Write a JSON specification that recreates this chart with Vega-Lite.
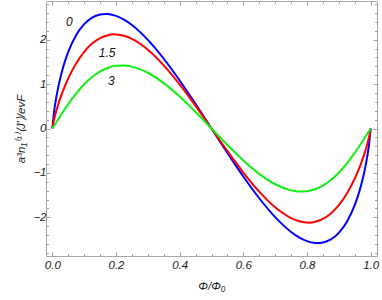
{
  "$schema": "https://vega.github.io/schema/vega-lite/v6.json",
  "width": 331,
  "height": 255,
  "autosize": "none",
  "padding": {"left": 46, "top": 1, "right": 5, "bottom": 44},
  "config": {
    "font": "Liberation Sans",
    "view": {"stroke": "#a8a8a8", "strokeWidth": 1},
    "axis": {
      "domain": false,
      "grid": false,
      "tickColor": "#a0a0a0",
      "tickWidth": 1,
      "labelFont": "Liberation Sans",
      "labelFontStyle": "italic",
      "labelFontSize": 11.5,
      "labelColor": "#222222",
      "labelOverlap": false,
      "labelFlush": false,
      "titleFont": "Liberation Sans",
      "titleFontStyle": "italic",
      "titleFontWeight": "normal",
      "titleFontSize": 11.5,
      "titleColor": "#222222"
    }
  },
  "datasets": {
    "curves": [
      {"x": 0, "y": 0, "c": "0"}, {"x": 0.005, "y": 0.356, "c": "0"}, {"x": 0.01, "y": 0.602, "c": "0"}, {"x": 0.02, "y": 0.982, "c": "0"}, {"x": 0.03, "y": 1.279, "c": "0"}, {"x": 0.04, "y": 1.522, "c": "0"}, {"x": 0.05, "y": 1.724, "c": "0"}, {"x": 0.075, "y": 2.103, "c": "0"}, {"x": 0.1, "y": 2.348, "c": "0"}, {"x": 0.125, "y": 2.496, "c": "0"}, {"x": 0.15, "y": 2.567, "c": "0"}, {"x": 0.1667, "y": 2.58, "c": "0"}, {"x": 0.175, "y": 2.577, "c": "0"}, {"x": 0.2, "y": 2.535, "c": "0"}, {"x": 0.225, "y": 2.45, "c": "0"}, {"x": 0.25, "y": 2.328, "c": "0"}, {"x": 0.275, "y": 2.175, "c": "0"}, {"x": 0.3, "y": 1.995, "c": "0"}, {"x": 0.35, "y": 1.57, "c": "0"}, {"x": 0.4, "y": 1.081, "c": "0"}, {"x": 0.45, "y": 0.55, "c": "0"}, {"x": 0.5, "y": 0, "c": "0"},
      {"x": 0.55, "y": -0.55, "c": "0"}, {"x": 0.6, "y": -1.081, "c": "0"}, {"x": 0.65, "y": -1.57, "c": "0"}, {"x": 0.7, "y": -1.995, "c": "0"}, {"x": 0.725, "y": -2.175, "c": "0"}, {"x": 0.75, "y": -2.328, "c": "0"}, {"x": 0.775, "y": -2.45, "c": "0"}, {"x": 0.8, "y": -2.535, "c": "0"}, {"x": 0.825, "y": -2.577, "c": "0"}, {"x": 0.8333, "y": -2.58, "c": "0"}, {"x": 0.85, "y": -2.567, "c": "0"}, {"x": 0.875, "y": -2.496, "c": "0"}, {"x": 0.9, "y": -2.348, "c": "0"}, {"x": 0.925, "y": -2.103, "c": "0"}, {"x": 0.95, "y": -1.724, "c": "0"}, {"x": 0.96, "y": -1.522, "c": "0"}, {"x": 0.97, "y": -1.279, "c": "0"}, {"x": 0.98, "y": -0.982, "c": "0"}, {"x": 0.99, "y": -0.602, "c": "0"}, {"x": 0.995, "y": -0.356, "c": "0"}, {"x": 1, "y": 0, "c": "0"},

      {"x": 0, "y": 0, "c": "1.5"}, {"x": 0.005, "y": 0.191, "c": "1.5"}, {"x": 0.01, "y": 0.335, "c": "1.5"}, {"x": 0.02, "y": 0.578, "c": "1.5"}, {"x": 0.03, "y": 0.784, "c": "1.5"}, {"x": 0.04, "y": 0.966, "c": "1.5"}, {"x": 0.05, "y": 1.129, "c": "1.5"}, {"x": 0.075, "y": 1.468, "c": "1.5"}, {"x": 0.1, "y": 1.725, "c": "1.5"}, {"x": 0.125, "y": 1.911, "c": "1.5"}, {"x": 0.15, "y": 2.035, "c": "1.5"}, {"x": 0.175, "y": 2.101, "c": "1.5"}, {"x": 0.19, "y": 2.12, "c": "1.5"}, {"x": 0.2, "y": 2.117, "c": "1.5"}, {"x": 0.225, "y": 2.087, "c": "1.5"}, {"x": 0.25, "y": 2.017, "c": "1.5"}, {"x": 0.3, "y": 1.775, "c": "1.5"}, {"x": 0.35, "y": 1.422, "c": "1.5"}, {"x": 0.4, "y": 0.991, "c": "1.5"}, {"x": 0.45, "y": 0.508, "c": "1.5"}, {"x": 0.5, "y": 0, "c": "1.5"},
      {"x": 0.55, "y": -0.508, "c": "1.5"}, {"x": 0.6, "y": -0.991, "c": "1.5"}, {"x": 0.65, "y": -1.422, "c": "1.5"}, {"x": 0.7, "y": -1.775, "c": "1.5"}, {"x": 0.75, "y": -2.017, "c": "1.5"}, {"x": 0.775, "y": -2.087, "c": "1.5"}, {"x": 0.8, "y": -2.117, "c": "1.5"}, {"x": 0.81, "y": -2.12, "c": "1.5"}, {"x": 0.825, "y": -2.101, "c": "1.5"}, {"x": 0.85, "y": -2.035, "c": "1.5"}, {"x": 0.875, "y": -1.911, "c": "1.5"}, {"x": 0.9, "y": -1.725, "c": "1.5"}, {"x": 0.925, "y": -1.468, "c": "1.5"}, {"x": 0.95, "y": -1.129, "c": "1.5"}, {"x": 0.96, "y": -0.966, "c": "1.5"}, {"x": 0.97, "y": -0.784, "c": "1.5"}, {"x": 0.98, "y": -0.578, "c": "1.5"}, {"x": 0.99, "y": -0.335, "c": "1.5"}, {"x": 0.995, "y": -0.191, "c": "1.5"}, {"x": 1, "y": 0, "c": "1.5"},

      {"x": 0, "y": 0, "c": "3"}, {"x": 0.005, "y": 0.057, "c": "3"}, {"x": 0.01, "y": 0.113, "c": "3"}, {"x": 0.02, "y": 0.226, "c": "3"}, {"x": 0.03, "y": 0.336, "c": "3"}, {"x": 0.04, "y": 0.444, "c": "3"}, {"x": 0.05, "y": 0.548, "c": "3"}, {"x": 0.075, "y": 0.789, "c": "3"}, {"x": 0.1, "y": 0.995, "c": "3"}, {"x": 0.125, "y": 1.16, "c": "3"}, {"x": 0.15, "y": 1.284, "c": "3"}, {"x": 0.175, "y": 1.367, "c": "3"}, {"x": 0.2, "y": 1.411, "c": "3"}, {"x": 0.225, "y": 1.419, "c": "3"}, {"x": 0.25, "y": 1.393, "c": "3"}, {"x": 0.3, "y": 1.255, "c": "3"}, {"x": 0.35, "y": 1.021, "c": "3"}, {"x": 0.4, "y": 0.719, "c": "3"}, {"x": 0.45, "y": 0.371, "c": "3"}, {"x": 0.5, "y": 0, "c": "3"},
      {"x": 0.55, "y": -0.371, "c": "3"}, {"x": 0.6, "y": -0.719, "c": "3"}, {"x": 0.65, "y": -1.021, "c": "3"}, {"x": 0.7, "y": -1.255, "c": "3"}, {"x": 0.75, "y": -1.393, "c": "3"}, {"x": 0.775, "y": -1.419, "c": "3"}, {"x": 0.8, "y": -1.411, "c": "3"}, {"x": 0.825, "y": -1.367, "c": "3"}, {"x": 0.85, "y": -1.284, "c": "3"}, {"x": 0.875, "y": -1.16, "c": "3"}, {"x": 0.9, "y": -0.995, "c": "3"}, {"x": 0.925, "y": -0.789, "c": "3"}, {"x": 0.95, "y": -0.548, "c": "3"}, {"x": 0.96, "y": -0.444, "c": "3"}, {"x": 0.97, "y": -0.336, "c": "3"}, {"x": 0.98, "y": -0.226, "c": "3"}, {"x": 0.99, "y": -0.113, "c": "3"}, {"x": 0.995, "y": -0.057, "c": "3"}, {"x": 1, "y": 0, "c": "3"}
    ],
    "labels": [
      {"x": 0.053, "y": 2.4, "t": "0"},
      {"x": 0.172, "y": 1.71, "t": "1.5"},
      {"x": 0.185, "y": 1.06, "t": "3"}
    ]
  },
  "layer": [
    {
      "mark": {"type": "rule", "color": "#a0a0a0", "strokeWidth": 1.5},
      "encoding": {
        "y": {"datum": 0, "type": "quantitative", "scale": {"domain": [-2.87, 2.87], "nice": false, "zero": false}, "axis": null}
      }
    },
    {
      "data": {"name": "curves"},
      "mark": {"type": "line", "strokeWidth": 2, "interpolate": "monotone", "clip": true},
      "encoding": {
        "x": {
          "field": "x", "type": "quantitative",
          "scale": {"domain": [-0.02, 1.02], "nice": false, "zero": false},
          "axis": {
            "orient": "bottom",
            "title": "Φ/Φ₀",
            "titlePadding": 8,
            "values": [0, 0.05, 0.1, 0.15, 0.2, 0.25, 0.3, 0.35, 0.4, 0.45, 0.5, 0.55, 0.6, 0.65, 0.7, 0.75, 0.8, 0.85, 0.9, 0.95, 1],
            "labelExpr": "abs(datum.value*5 - round(datum.value*5)) < 0.001 ? format(datum.value, '.1f') : ''",
            "tickSize": {"condition": {"test": "abs(datum.value*5 - round(datum.value*5)) < 0.001", "value": -4}, "value": -2.5},
            "labelPadding": 7
          }
        },
        "y": {
          "field": "y", "type": "quantitative",
          "scale": {"domain": [-2.87, 2.87], "nice": false, "zero": false},
          "axis": {
            "orient": "left",
            "title": "a³n₁⁽¹⁾⟨J′⟩/evF",
            "titlePadding": 6,
            "values": [-2.8, -2.6, -2.4, -2.2, -2, -1.8, -1.6, -1.4, -1.2, -1, -0.8, -0.6, -0.4, -0.2, 0, 0.2, 0.4, 0.6, 0.8, 1, 1.2, 1.4, 1.6, 1.8, 2, 2.2, 2.4, 2.6, 2.8],
            "labelExpr": "abs(datum.value - round(datum.value)) < 0.001 ? format(round(datum.value), 'd') : ''",
            "tickSize": {"condition": {"test": "abs(datum.value - round(datum.value)) < 0.001", "value": -4}, "value": -2.5},
            "labelPadding": 4
          }
        },
        "color": {
          "field": "c", "type": "nominal",
          "scale": {"domain": ["0", "1.5", "3"], "range": ["#0000ff", "#ff0000", "#11ee11"]},
          "legend": null
        }
      }
    },
    {
      "data": {"name": "labels"},
      "mark": {"type": "text", "fontStyle": "italic", "fontSize": 12, "font": "Liberation Sans", "color": "#111111"},
      "encoding": {
        "x": {
          "field": "x", "type": "quantitative",
          "axis": {
            "orient": "top", "title": null, "labels": false,
            "values": [0, 0.05, 0.1, 0.15, 0.2, 0.25, 0.3, 0.35, 0.4, 0.45, 0.5, 0.55, 0.6, 0.65, 0.7, 0.75, 0.8, 0.85, 0.9, 0.95, 1],
            "tickSize": {"condition": {"test": "abs(datum.value*5 - round(datum.value*5)) < 0.001", "value": -4}, "value": -2.5}
          }
        },
        "y": {
          "field": "y", "type": "quantitative",
          "axis": {
            "orient": "right", "title": null, "labels": false,
            "values": [-2.8, -2.6, -2.4, -2.2, -2, -1.8, -1.6, -1.4, -1.2, -1, -0.8, -0.6, -0.4, -0.2, 0, 0.2, 0.4, 0.6, 0.8, 1, 1.2, 1.4, 1.6, 1.8, 2, 2.2, 2.4, 2.6, 2.8],
            "tickSize": {"condition": {"test": "abs(datum.value - round(datum.value)) < 0.001", "value": -4}, "value": -2.5}
          }
        },
        "text": {"field": "t", "type": "nominal"}
      }
    }
  ],
  "resolve": {"axis": {"x": "independent", "y": "independent"}}
}
